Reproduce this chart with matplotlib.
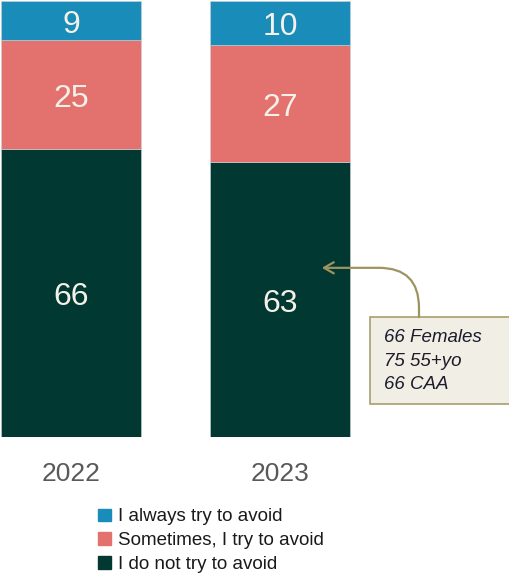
import numpy as np
import matplotlib
matplotlib.use('Agg')
import matplotlib.pyplot as plt
from matplotlib.patches import Patch, Rectangle

plt.rcParams['font.family'] = ['Liberation Sans', 'DejaVu Sans']

years = ['2022', '2023']
series = ['I do not try to avoid', 'Sometimes, I try to avoid', 'I always try to avoid']
values = {
    'I do not try to avoid': [66, 63],
    'Sometimes, I try to avoid': [25, 27],
    'I always try to avoid': [9, 10],
}
colors = {
    'I do not try to avoid': '#023832',
    'Sometimes, I try to avoid': '#E3726E',
    'I always try to avoid': '#1A8CB9',
}
note_lines = ['66 Females', '75 55+yo', '66 CAA']

W, H = 510, 574
fig = plt.figure(figsize=(W / 100, H / 100), dpi=100)
ax = fig.add_axes([0, (H - 437) / H, 1, 436 / H])

x = np.arange(len(years))
bottom = np.zeros(len(years))
for s in series:
    v = np.array(values[s])
    ax.bar(x, v, 0.67, bottom=bottom, color=colors[s], edgecolor='#c9d3d6', linewidth=0.4)
    for xi, b, vi in zip(x, bottom, v):
        ax.text(xi, b + vi / 2 - 1.0, str(vi), ha='center', va='center',
                color='#F4F1E8', fontsize=23)
    bottom += v

ax.set_xlim(-71 / 209, (W - 71) / 209)
ax.set_ylim(0, 100)
ax.axis('off')

for xi, y in zip(x, years):
    ax.text(xi, -8.4, y, ha='center', va='center', color='#595959', fontsize=19,
            clip_on=False)

# callout box next to the 2023 bar
bx0, bx1, by0, by1 = 1.431, 2.12, 7.6, 27.5
ax.add_patch(Rectangle((bx0, by0), bx1 - bx0, by1 - by0, fc='#F1EEE6', ec='#A89E6C',
                       lw=1.2, clip_on=False, zorder=3))
ax.text(1.498, (by0 + by1) / 2 - 0.2, '\n'.join(note_lines), ha='left', va='center',
        fontsize=13.5, style='italic', color='#1c1c2a', linespacing=1.5, zorder=4)
ax.annotate('', xy=(1.2, 38.8), xytext=(1.665, by1),
            arrowprops=dict(arrowstyle='->,head_length=0.7,head_width=0.4',
                            color='#9E9460', lw=1.6,
                            connectionstyle='angle,angleA=90,angleB=0,rad=40',
                            shrinkA=0, shrinkB=0),
            annotation_clip=False)

handles = [Patch(color=colors[s]) for s in series[::-1]]
fig.legend(handles, series[::-1], loc='upper left', bbox_to_anchor=(89 / W, 1 - 499 / H),
           frameon=False, fontsize=13.5, handlelength=0.65, handleheight=0.65,
           handletextpad=0.4, labelspacing=0.36, borderpad=0, labelcolor='#1a1a1a')

fig.savefig('out.png', dpi=100)
